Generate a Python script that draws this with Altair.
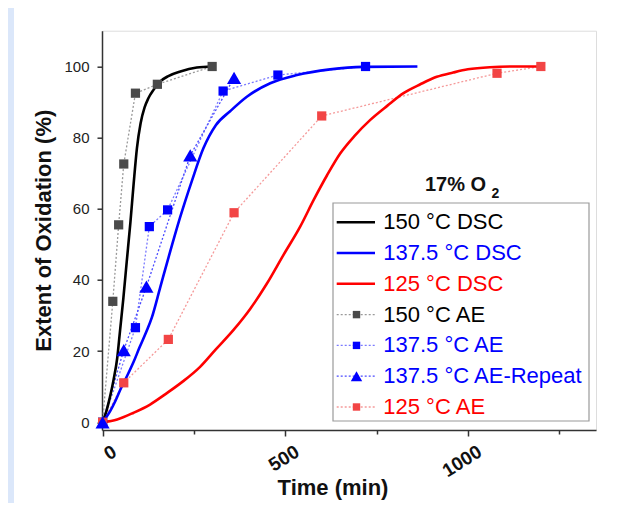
import altair as alt
import pandas as pd

# ---------------- data ----------------
# DSC curves
t_dsc_150 = [0, 10, 20, 30, 40, 48, 57, 66, 76, 85, 94, 104, 115, 125, 140, 158, 180, 213, 258, 300]
v_dsc_150 = [0, 3, 7, 11.9, 18, 26, 35, 45, 56, 67, 77, 84, 88.5, 91, 93.5, 95.8, 97.3, 98.6, 99.7, 100]

t_dsc_1375 = [0, 20, 35, 50, 67, 85, 101, 120, 135, 158, 181, 212, 245, 276, 310, 350, 395, 459, 532, 623, 714, 862]
v_dsc_1375 = [0, 3, 6, 9.5, 13, 17, 21, 25.5, 29.5, 38, 46.5, 57.5, 68, 77, 83.5, 87.5, 91.5, 95.3, 97.6, 99.2, 99.9, 100]

t_dsc_125 = [0, 40, 85, 130, 176, 220, 267, 310, 358, 405, 450, 495, 541, 578, 615, 651, 690, 733, 780, 824, 870, 915, 960, 1000, 1060, 1130, 1200]
v_dsc_125 = [0, 0.8, 2.7, 5, 8.2, 11.5, 15.6, 20.5, 25.9, 32, 39, 47, 55, 62.5, 69.5, 75.6, 80.5, 85, 89, 92.5, 95, 97.1, 98.3, 99.2, 99.8, 100, 100]

# AE measurements
t_ae_150 = [0, 28, 44, 58, 90, 150, 300]
v_ae_150 = [0, 34, 55.5, 72.6, 92.5, 95, 100]

t_ae_1375 = [0, 90, 128, 178, 330, 480, 720]
v_ae_1375 = [0, 26.6, 55, 59.7, 93.1, 97.6, 100]

t_ae_1375r = [0, 58, 120, 240, 360]
v_ae_1375r = [0, 20.3, 38.1, 75, 96.8]

t_ae_125 = [0, 58, 180, 360, 600, 1080, 1200]
v_ae_125 = [0, 11.1, 23.3, 58.9, 86.1, 98.1, 100]

dsc_names = ["150 °C DSC", "137.5 °C DSC", "125 °C DSC"]
dsc_colors = ["#000000", "#0000ff", "#ff0000"]

ae_names = ["150 °C AE", "137.5 °C AE", "137.5 °C AE-Repeat", "125 °C AE"]
ae_line_colors = ["#9a9a9a", "#7a7aff", "#4a4aff", "#f59a9a"]
ae_marker_colors = ["#4a4a4a", "#0000ff", "#0000ff", "#f24545"]
ae_shapes = ["square", "square", "triangle-up", "square"]
leg_sizes = [55, 55, 130, 55]

legend_labels = dsc_names + ae_names
legend_text_colors = ["#000000", "#0000ff", "#ff0000", "#000000", "#0000ff", "#0000ff", "#ff0000"]

x_ticks = [0, 250, 500, 750, 1000, 1250]
y_ticks = [0, 20, 40, 60, 80, 100]

# ---------------- tables ----------------
dsc_rows = []
for name, ts, vs in zip(dsc_names, [t_dsc_150, t_dsc_1375, t_dsc_125], [v_dsc_150, v_dsc_1375, v_dsc_125]):
    for t, v in zip(ts, vs):
        dsc_rows.append({"series": name, "t": t, "v": v})
dsc_df = pd.DataFrame(dsc_rows)

ae_rows = []
for name, ts, vs in zip(ae_names, [t_ae_150, t_ae_1375, t_ae_1375r, t_ae_125],
                        [v_ae_150, v_ae_1375, v_ae_1375r, v_ae_125]):
    for t, v in zip(ts, vs):
        ae_rows.append({"series": name, "t": t, "v": v})
ae_df = pd.DataFrame(ae_rows)

leg_df = pd.DataFrame({
    "i": list(range(7)),
    "label": legend_labels,
    "tcolor": legend_text_colors,
    "lcolor": dsc_colors + ae_line_colors,
    "mcolor": dsc_colors + ae_marker_colors,
    "shape": ["square"] * 3 + ae_shapes,
    "msize": [55] * 3 + leg_sizes,
    "kind": ["dsc"] * 3 + ["ae"] * 4,
})

FONT = "Liberation Sans"

xscale = alt.Scale(domain=[-1.6, 1351], nice=False, zero=False)
yscale = alt.Scale(domain=[-2.16, 110.06], nice=False, zero=False)

xaxis = alt.Axis(
    title="Time (min)", values=x_ticks, format="d",
    labelExpr="datum.value % 500 === 0 ? datum.label : ''",
    labelAngle=-32, labelAlign="right", labelBaseline="top",
    labelFontSize=19, labelFontWeight="bold", labelColor="#111",
    labelPadding=6, labelOffset=7,
    tickSize={"condition": {"test": "datum.value % 500 === 0", "value": 6}, "value": 4},
    tickColor="#333", tickWidth=1.5, domainColor="#333", domainWidth=1.5,
    grid=False, titleFontSize=22, titleFontWeight="bold", titleColor="#111",
    titleX=230.5, titleY=47, titleAnchor="middle", titleBaseline="top",
)
yaxis = alt.Axis(
    title="Extent of Oxidation (%)", values=y_ticks,
    labelFontSize=15, labelColor="#222", labelPadding=8,
    tickSize=5, tickColor="#333", tickWidth=1.5, domainColor="#333", domainWidth=1.5,
    grid=False, titleFontSize=22, titleFontWeight="bold", titleColor="#111",
    titleX=-47, titleY=199.5, titleAngle=-90, titleBaseline="bottom", titleAnchor="middle",
)

X = alt.X("t:Q", scale=xscale, axis=xaxis)
Y = alt.Y("v:Q", scale=yscale, axis=yaxis)

ae_lines = alt.Chart(ae_df).mark_line(strokeDash=[2, 2], strokeWidth=1.3).encode(
    x=X, y=Y,
    color=alt.Color("series:N", scale=alt.Scale(domain=ae_names, range=ae_line_colors), legend=None),
    detail="series:N",
)

dsc_lines = alt.Chart(dsc_df).mark_line(strokeWidth=2.6, interpolate="monotone").encode(
    x=X, y=Y,
    color=alt.Color("series:N", scale=alt.Scale(domain=dsc_names, range=dsc_colors), legend=None),
    detail="series:N",
)

FILL = alt.Fill("series:N", scale=alt.Scale(domain=ae_names, range=ae_marker_colors), legend=None)

ae_squares = alt.Chart(ae_df).transform_filter(
    "datum.series !== '137.5 °C AE-Repeat'"
).mark_point(filled=True, opacity=1, shape="square", size=85).encode(x=X, y=Y, fill=FILL)

ae_triangles = alt.Chart(ae_df).transform_filter(
    "datum.series === '137.5 °C AE-Repeat'"
).mark_point(filled=True, opacity=1, shape="triangle-up", size=200).encode(x=X, y=Y, fill=FILL)

# ---------------- legend (drawn as marks) ----------------
bg_df = pd.DataFrame({"k": [0]})
left_strip = alt.Chart(bg_df).mark_rect(color="#dbe7fa").encode(
    x=alt.value(-94), x2=alt.value(-88), y=alt.value(-23), y2=alt.value(480)
)
legend_box = alt.Chart(bg_df).mark_rect(fill="white", stroke="#9a9a9a", strokeWidth=1.2).encode(
    x=alt.value(231), x2=alt.value(487), y=alt.value(172.3), y2=alt.value(390.3)
)

leg_base = alt.Chart(leg_df).transform_calculate(ly="191.5 + 30.8 * datum.i")
LY = alt.Y("ly:Q", scale=None)

leg_dsc = leg_base.transform_filter("datum.kind === 'dsc'").mark_rule(strokeWidth=2.6).encode(
    x=alt.value(234.7), x2=alt.value(273), y=LY,
    color=alt.Color("lcolor:N", scale=None),
)
leg_ae = leg_base.transform_filter("datum.kind === 'ae'").mark_rule(strokeWidth=1.3, strokeDash=[2, 2]).encode(
    x=alt.value(234.7), x2=alt.value(273), y=LY,
    color=alt.Color("lcolor:N", scale=None),
)
leg_pts = leg_base.transform_filter("datum.kind === 'ae'").mark_point(filled=True, opacity=1).encode(
    x=alt.value(254.5), y=LY,
    fill=alt.Fill("mcolor:N", scale=None),
    shape=alt.Shape("shape:N", scale=None),
    size=alt.Size("msize:Q", scale=None),
)
leg_text = leg_base.mark_text(align="left", baseline="middle", fontSize=22, font=FONT).encode(
    x=alt.value(281.3), y=LY,
    text="label:N",
    color=alt.Color("tcolor:N", scale=None),
)

title_main = alt.Chart(bg_df).mark_text(
    text="17% O", align="left", baseline="middle", fontSize=20, fontWeight="bold", font=FONT, color="#111"
).encode(x=alt.value(323), y=alt.value(154.3))
title_sub = alt.Chart(bg_df).mark_text(
    text="2", align="left", baseline="middle", fontSize=14, fontWeight="bold", font=FONT, color="#111"
).encode(x=alt.value(389.5), y=alt.value(163))

chart = alt.layer(
    left_strip, ae_lines, dsc_lines, ae_squares, ae_triangles,
    legend_box, leg_dsc, leg_ae, leg_pts, leg_text, title_main, title_sub,
).resolve_scale(
    color="independent", fill="independent", shape="independent", size="independent"
).properties(
    width=494, height=399.3,
    autosize=alt.AutoSizeParams(type="none"),
    padding={"left": 94, "top": 22.7, "right": 30, "bottom": 72.5},
    background="white",
).configure_view(
    stroke="#333", strokeWidth=1.5
).configure(font=FONT)

chart.save("out.html", embed_options={"renderer": "svg", "actions": False})
